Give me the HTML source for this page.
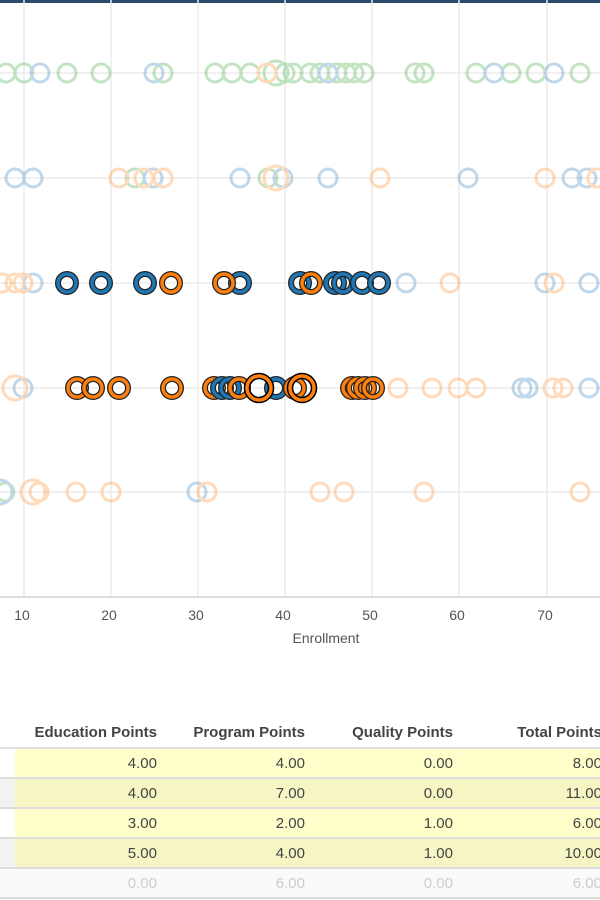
<!DOCTYPE html><html><head><style>
body{margin:0;width:600px;height:900px;overflow:hidden;background:#fff;font-family:"Liberation Sans",Arial,sans-serif;position:relative}
.top{position:absolute;left:0;top:0;width:600px;height:3px;background:#2c4a6b}
table{position:absolute;left:0;top:717px;border-collapse:collapse;font-size:15px;color:#444;width:620px}
th{font-weight:bold;text-align:right;height:30px;padding:0;border-bottom:2px solid #e0e0e0}
td{text-align:right;height:28px;padding:0;border-bottom:2px solid #ddd}
.y td.c{background:#ffffcc}.g td.c{background:#f6f6c4}.g td.l{background:#f2f2f2}
.f td{color:#ccc;background:#fafafa}
</style></head><body>
<div class="top"></div>
<svg width="600" height="700" style="position:absolute;left:0;top:0">
<g stroke="#ececec" stroke-width="1.5">
<line x1="24" y1="0" x2="24" y2="597"/><line x1="111" y1="0" x2="111" y2="597"/><line x1="198" y1="0" x2="198" y2="597"/><line x1="285" y1="0" x2="285" y2="597"/><line x1="372" y1="0" x2="372" y2="597"/><line x1="459" y1="0" x2="459" y2="597"/><line x1="547" y1="0" x2="547" y2="597"/>
<line x1="0" y1="73" x2="600" y2="73"/><line x1="0" y1="178" x2="600" y2="178"/><line x1="0" y1="283" x2="600" y2="283"/><line x1="0" y1="388" x2="600" y2="388"/><line x1="0" y1="492" x2="600" y2="492"/>
</g>
<line x1="0" y1="597" x2="600" y2="597" stroke="#ddd" stroke-width="2"/>
<g font-size="14" fill="#555" text-anchor="middle">
<text x="22" y="620">10</text><text x="109" y="620">20</text><text x="196" y="620">30</text><text x="283" y="620">40</text><text x="370" y="620">50</text><text x="457" y="620">60</text><text x="545" y="620">70</text>
<text x="326" y="643">Enrollment</text></g>
<g fill="none" stroke-width="3" opacity="0.28">
<g stroke="#2ca02c"><circle cx="6" cy="73" r="9"/><circle cx="24" cy="73" r="9"/><circle cx="67" cy="73" r="9"/><circle cx="101" cy="73" r="9"/><circle cx="163" cy="73" r="9"/><circle cx="215" cy="73" r="9"/><circle cx="232" cy="73" r="9"/><circle cx="250" cy="73" r="9"/><circle cx="276" cy="73" r="12"/><circle cx="285" cy="73" r="9"/><circle cx="293" cy="73" r="9"/><circle cx="310" cy="73" r="9"/><circle cx="320" cy="73" r="9"/><circle cx="337" cy="73" r="9"/><circle cx="346" cy="73" r="9"/><circle cx="354" cy="73" r="9"/><circle cx="364" cy="73" r="9"/><circle cx="415" cy="73" r="9"/><circle cx="424" cy="73" r="9"/><circle cx="476" cy="73" r="9"/><circle cx="511" cy="73" r="9"/><circle cx="536" cy="73" r="9"/><circle cx="580" cy="73" r="9"/><circle cx="135" cy="178" r="9"/><circle cx="268" cy="178" r="9"/><circle cx="5" cy="492" r="9"/></g>
<g stroke="#1f77b4"><circle cx="40" cy="73" r="9"/><circle cx="154" cy="73" r="9"/><circle cx="328" cy="73" r="9"/><circle cx="494" cy="73" r="9"/><circle cx="554" cy="73" r="9"/>
<circle cx="15" cy="178" r="9"/><circle cx="33" cy="178" r="9"/><circle cx="153" cy="178" r="9"/><circle cx="240" cy="178" r="9"/><circle cx="283" cy="178" r="9"/><circle cx="328" cy="178" r="9"/><circle cx="468" cy="178" r="9"/><circle cx="572" cy="178" r="9"/><circle cx="587" cy="178" r="9"/>
<circle cx="33" cy="283" r="9"/><circle cx="406" cy="283" r="9"/><circle cx="545" cy="283" r="9"/><circle cx="589" cy="283" r="9"/>
<circle cx="23" cy="388" r="9"/><circle cx="522" cy="388" r="9"/><circle cx="528" cy="388" r="9"/><circle cx="589" cy="388" r="9"/>
<circle cx="0" cy="492" r="12"/><circle cx="197" cy="492" r="9"/></g>
<g stroke="#ff7f0e"><circle cx="267" cy="73" r="9"/>
<circle cx="119" cy="178" r="9"/><circle cx="144" cy="178" r="9"/><circle cx="163" cy="178" r="9"/><circle cx="276" cy="178" r="12"/><circle cx="380" cy="178" r="9"/><circle cx="545" cy="178" r="9"/><circle cx="597" cy="178" r="9"/>
<circle cx="2" cy="283" r="9"/><circle cx="15" cy="283" r="9"/><circle cx="23" cy="283" r="9"/><circle cx="450" cy="283" r="9"/><circle cx="554" cy="283" r="9"/>
<circle cx="15" cy="388" r="12"/><circle cx="398" cy="388" r="9"/><circle cx="432" cy="388" r="9"/><circle cx="458" cy="388" r="9"/><circle cx="476" cy="388" r="9"/><circle cx="553" cy="388" r="9"/><circle cx="563" cy="388" r="9"/>
<circle cx="33" cy="492" r="12"/><circle cx="39" cy="492" r="9"/><circle cx="76" cy="492" r="9"/><circle cx="111" cy="492" r="9"/><circle cx="207" cy="492" r="9"/><circle cx="320" cy="492" r="9"/><circle cx="344" cy="492" r="9"/><circle cx="424" cy="492" r="9"/><circle cx="580" cy="492" r="9"/></g>
</g>
<defs>
<g id="b"><circle r="9" fill="none" stroke="#222" stroke-width="6"/><circle r="9" fill="none" stroke="#1f77b4" stroke-width="3.5"/></g>
<g id="o"><circle r="9" fill="none" stroke="#222" stroke-width="6"/><circle r="9" fill="none" stroke="#ff7f0e" stroke-width="3.5"/></g>
<g id="O"><circle r="12" fill="none" stroke="#000" stroke-width="6.5"/><circle r="12" fill="none" stroke="#ff7f0e" stroke-width="3.5"/></g>
</defs>
<use href="#b" x="67" y="283"/><use href="#b" x="101" y="283"/><use href="#b" x="145" y="283"/><use href="#o" x="171" y="283"/><use href="#b" x="240" y="283"/><use href="#o" x="224" y="283"/><use href="#b" x="300" y="283"/><use href="#o" x="311" y="283"/><use href="#b" x="335" y="283"/><use href="#b" x="343" y="283"/><use href="#b" x="362" y="283"/><use href="#b" x="379" y="283"/>
<use href="#o" x="77" y="388"/><use href="#o" x="93" y="388"/><use href="#o" x="119" y="388"/><use href="#o" x="172" y="388"/><use href="#o" x="214" y="388"/><use href="#b" x="222" y="388"/><use href="#b" x="230" y="388"/><use href="#o" x="239" y="388"/><use href="#b" x="276" y="388"/><use href="#O" x="259" y="388"/><use href="#o" x="295" y="388"/><use href="#O" x="302" y="388"/><use href="#o" x="352" y="388"/><use href="#o" x="358" y="388"/><use href="#o" x="365" y="388"/><use href="#o" x="373" y="388"/>
</svg>
<table>
<colgroup><col style="width:15px"><col style="width:142px"><col style="width:148px"><col style="width:148px"><col style="width:149px"><col></colgroup>
<tr><th></th><th>Education Points</th><th>Program Points</th><th>Quality Points</th><th>Total Points</th><th></th></tr>
<tr class="y"><td class="l"></td><td class="c">4.00</td><td class="c">4.00</td><td class="c">0.00</td><td class="c">8.00</td><td class="c"></td></tr>
<tr class="g"><td class="l"></td><td class="c">4.00</td><td class="c">7.00</td><td class="c">0.00</td><td class="c">11.00</td><td class="c"></td></tr>
<tr class="y"><td class="l"></td><td class="c">3.00</td><td class="c">2.00</td><td class="c">1.00</td><td class="c">6.00</td><td class="c"></td></tr>
<tr class="g"><td class="l"></td><td class="c">5.00</td><td class="c">4.00</td><td class="c">1.00</td><td class="c">10.00</td><td class="c"></td></tr>
<tr class="f"><td></td><td>0.00</td><td>6.00</td><td>0.00</td><td>6.00</td><td></td></tr>
</table>
</body></html>
